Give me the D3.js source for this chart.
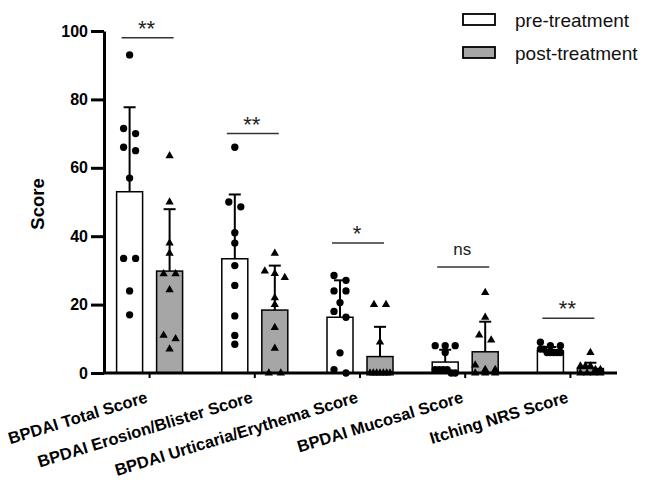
<!DOCTYPE html>
<html>
<head>
<meta charset="utf-8">
<script src="https://cdn.jsdelivr.net/npm/d3@7"></script>
<style>
  body { margin: 0; background: #fff; }
  text { font-family: Arial, "Liberation Sans", sans-serif; }
</style>
</head>
<body>
<div id="canvas"></div>
<script>
// values
const categories = ["BPDAI Total Score", "BPDAI Erosion/Blister Score", "BPDAI Urticaria/Erythema Score", "BPDAI Mucosal Score", "Itching NRS Score"];
const preScores = [
  [93, 71.5, 70, 66, 65, 57, 33.5, 33.5, 24, 17],
  [66, 50, 48.6, 41, 38, 31.4, 25.6, 16.7, 11, 8.4],
  [28.5, 27.1, 24, 24, 20.6, 18, 16.3, 5.9, 1, 0],
  [8, 8, 8, 6, 1, 1, 1, 1, 0, 0],
  [9, 8, 8, 7, 7, 6, 6, 6, 6, 6]
];
const postScores = [
  [63.5, 50, 38, 35, 29, 29, 24.3, 11, 10, 7],
  [35, 29.8, 29.1, 27.9, 22, 20, 13.3, 7.2, 0, 0],
  [20, 20, 9, 0, 0, 0, 0, 0, 0, 0],
  [23.5, 16.3, 11.1, 9.6, 2.3, 1, 1, 0, 0, 0],
  [6, 2, 2, 2, 1, 1, 0, 0, 0, 0]
];
const preMean = [53, 33.4, 16.3, 3.2, 6.5];
const preSD = [24.7, 18.8, 10.8, 3.6, 1.1];
const postMean = [29.8, 18.4, 4.8, 6.2, 1.3];
const postSD = [18.1, 13.0, 8.7, 8.8, 1.7];
const sigLabels = ["**", "**", "*", "ns", "**"];
const sigLevel = [98, 70, 38, 31, 16];
const yTicks = [0, 20, 40, 60, 80, 100];
const seriesNames = ["pre-treatment", "post-treatment"];

const width = 653;
const height = 490;
const postFill = "#a6a6a6";

const svg = d3.select("#canvas").append("svg")
  .attr("width", width)
  .attr("height", height);

const x = d3.scaleBand()
  .domain(categories)
  .range([97, 623]);

const sub = d3.scaleBand()
  .domain(["pre", "post"])
  .range([-33, 33])
  .paddingInner(0.35);

const y = d3.scaleLinear()
  .domain([0, 100])
  .range([373, 31]);

const center = c => x(c) + x.bandwidth() / 2;

// x axis
const xAxis = svg.append("g")
  .attr("transform", `translate(0,${y(0)})`)
  .call(d3.axisBottom(x).tickSize(5).tickSizeOuter(0));
xAxis.select(".domain").remove();
xAxis.selectAll(".tick line").attr("stroke-width", 2).attr("stroke", "#000");
xAxis.selectAll(".tick text")
  .attr("x", 0).attr("y", 0).attr("dy", null)
  .attr("text-anchor", "end")
  .attr("transform", "translate(-1,29) rotate(-17)")
  .attr("font-size", 16.5)
  .attr("font-weight", "bold")
  .attr("fill", "#000")
  .style("font-family", "Arial, 'Liberation Sans', sans-serif");

// bars
const groups = svg.selectAll("g.grp")
  .data(categories)
  .enter().append("g")
  .attr("class", "grp")
  .attr("transform", d => `translate(${center(d)},0)`);

const series = [
  { key: "pre", scores: preScores, mean: preMean, sd: preSD, fill: "#fff", shape: d3.symbolCircle },
  { key: "post", scores: postScores, mean: postMean, sd: postSD, fill: postFill, shape: d3.symbolTriangle }
];

// simple dot spreading: points that sit close together are laid side by side
function spread(vals) {
  const sorted = vals.slice().sort((a, b) => b - a);
  const out = [];
  let cluster = [];
  const flush = () => {
    const k = cluster.length;
    const step = k > 1 ? Math.min(12, 20 / (k - 1)) : 0;
    cluster.forEach((v, i) => out.push({ v: v, dx: (i - (k - 1) / 2) * step }));
    cluster = [];
  };
  sorted.forEach(v => {
    if (cluster.length && Math.abs(y(v) - y(cluster[0])) >= 6.5) flush();
    cluster.push(v);
  });
  flush();
  return out;
}

series.forEach(s => {
  groups.append("rect")
    .attr("x", sub(s.key))
    .attr("width", sub.bandwidth())
    .attr("y", (d, i) => y(s.mean[i]))
    .attr("height", (d, i) => y(0) - y(s.mean[i]))
    .attr("fill", s.fill)
    .attr("stroke", "#000")
    .attr("stroke-width", 1.5);
});

series.forEach(s => {
  const cx = sub(s.key) + sub.bandwidth() / 2;
  groups.append("line")
    .attr("x1", cx).attr("x2", cx)
    .attr("y1", (d, i) => y(s.mean[i]))
    .attr("y2", (d, i) => y(s.mean[i] + s.sd[i]))
    .attr("stroke", "#000").attr("stroke-width", 2);
  groups.append("line")
    .attr("x1", cx - 6).attr("x2", cx + 6)
    .attr("y1", (d, i) => y(s.mean[i] + s.sd[i]))
    .attr("y2", (d, i) => y(s.mean[i] + s.sd[i]))
    .attr("stroke", "#000").attr("stroke-width", 2);
});

series.forEach(s => {
  const cx = sub(s.key) + sub.bandwidth() / 2;
  const sym = d3.symbol().type(s.shape).size(s.key === "pre" ? 42 : 30);
  groups.each(function(d, i) {
    d3.select(this).selectAll("path." + s.key)
      .data(spread(s.scores[i]))
      .enter().append("path")
      .attr("class", s.key)
      .attr("d", sym)
      .attr("transform", p => `translate(${cx + p.dx},${y(p.v)})`)
      .attr("fill", "#000");
  });
});

// significance marks
groups.append("line")
  .attr("x1", -28).attr("x2", 24)
  .attr("y1", (d, i) => y(sigLevel[i]))
  .attr("y2", (d, i) => y(sigLevel[i]))
  .attr("stroke", "#333").attr("stroke-width", 1.5);
groups.append("text")
  .attr("x", -3)
  .attr("y", (d, i) => y(sigLevel[i]) - (sigLabels[i] === "ns" ? 12 : 2))
  .attr("text-anchor", "middle")
  .attr("font-size", (d, i) => sigLabels[i] === "ns" ? 17 : 22)
  .attr("fill", "#222")
  .text((d, i) => sigLabels[i]);

// x axis line drawn over the bars
svg.append("line")
  .attr("x1", 104).attr("x2", 617)
  .attr("y1", y(0)).attr("y2", y(0))
  .attr("stroke", "#000").attr("stroke-width", 3);

// y axis
const yAxis = svg.append("g")
  .attr("transform", "translate(104,0)")
  .call(d3.axisLeft(y).tickValues(yTicks).tickSize(13).tickPadding(3).tickSizeOuter(0));
yAxis.select(".domain").attr("stroke-width", 3);
yAxis.selectAll(".tick line").attr("stroke-width", 3);
yAxis.selectAll(".tick text")
  .attr("font-size", 16)
  .attr("font-weight", "bold")
  .attr("fill", "#000")
  .style("font-family", "Arial, 'Liberation Sans', sans-serif");

svg.append("text")
  .attr("transform", "translate(44,204) rotate(-90)")
  .attr("text-anchor", "middle")
  .attr("font-size", 18.5)
  .attr("font-weight", "bold")
  .text("Score");

// legend
const legend = svg.selectAll("g.legend")
  .data(seriesNames)
  .enter().append("g")
  .attr("class", "legend")
  .attr("transform", (d, i) => `translate(463,${14 + i * 33})`);
legend.append("rect")
  .attr("width", 32).attr("height", 11)
  .attr("fill", (d, i) => i === 0 ? "#fff" : postFill)
  .attr("stroke", "#000").attr("stroke-width", 1.8);
legend.append("text")
  .attr("x", 52).attr("y", 13)
  .attr("font-size", 19)
  .attr("fill", "#111")
  .text(d => d);
</script>
</body>
</html>
